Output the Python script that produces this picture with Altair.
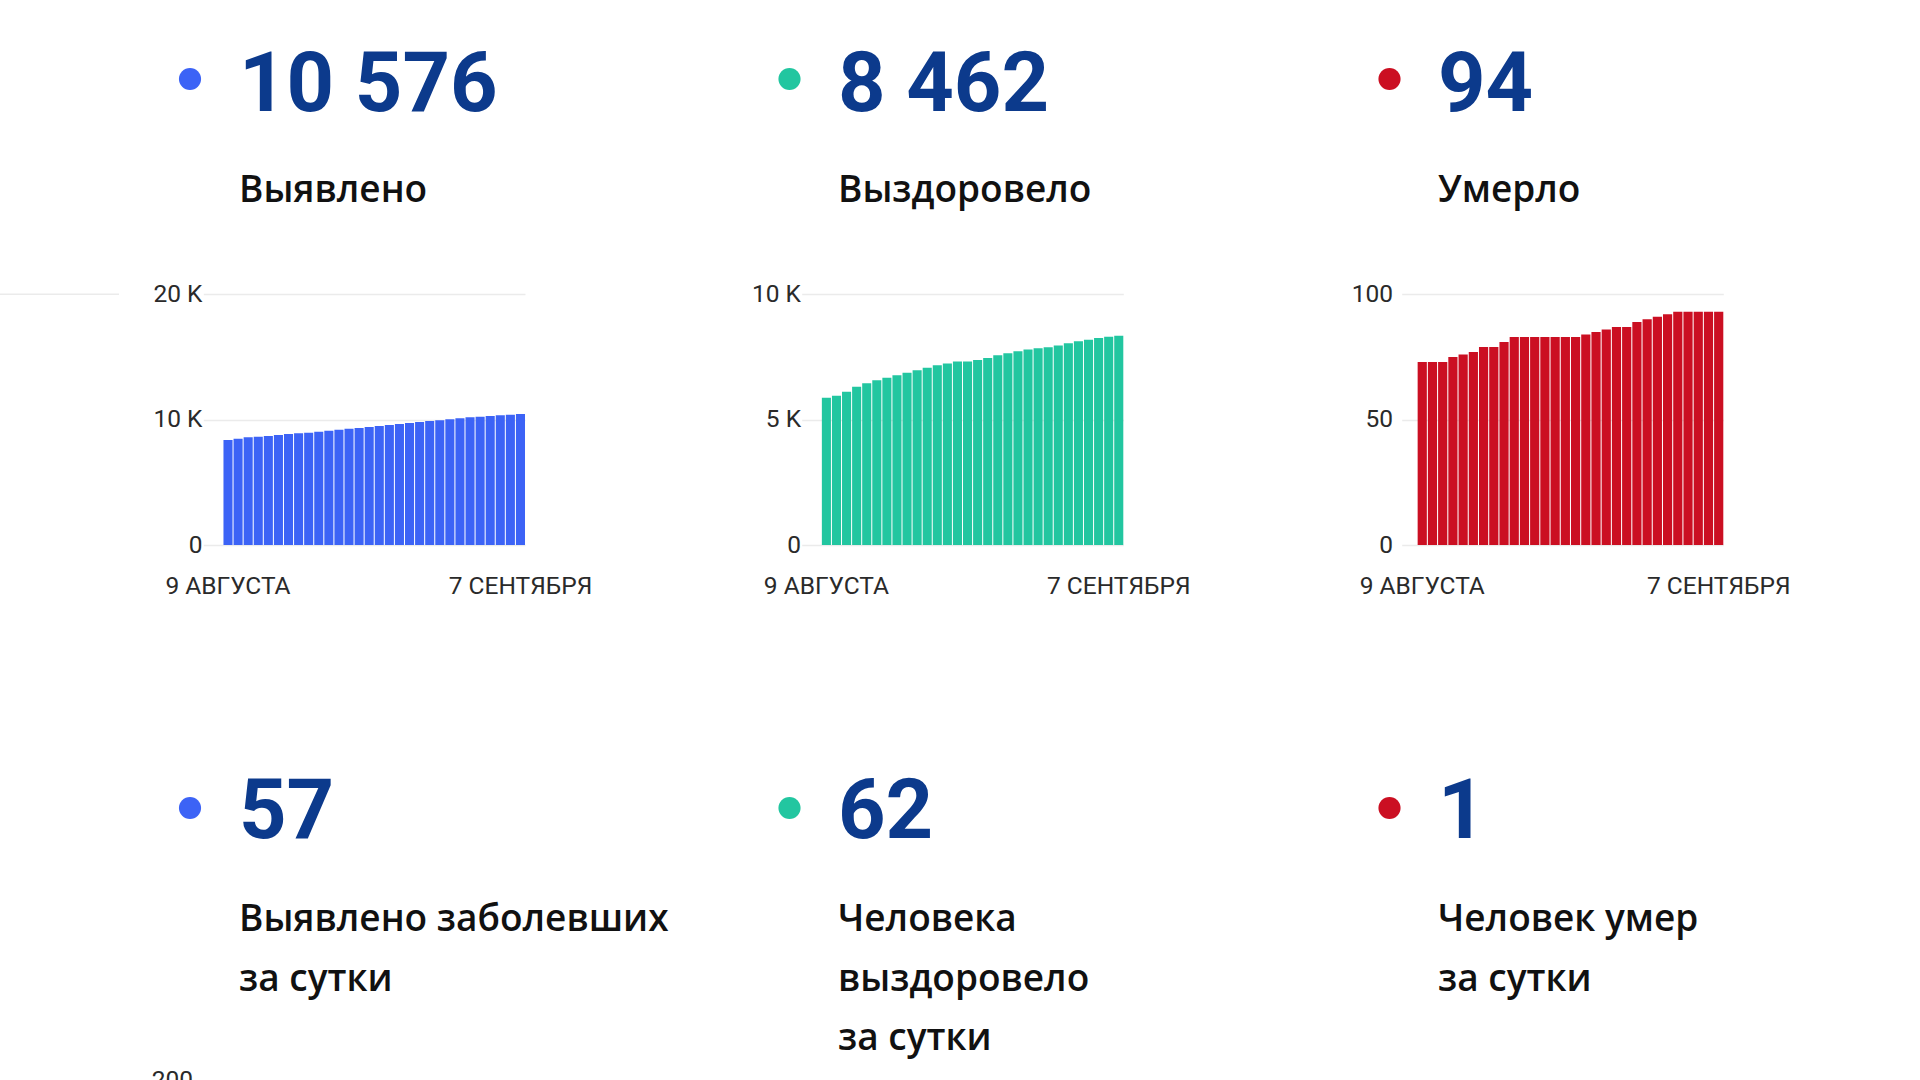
import altair as alt
import pandas as pd

# ---------------- data ----------------
dates = pd.date_range("2020-08-09", "2020-09-07").strftime("%Y-%m-%d").tolist()
x_tick_labels = ["9 АВГУСТА", "7 СЕНТЯБРЯ"]

confirmed_values = [8380, 8480, 8590, 8640, 8700, 8780, 8860, 8910, 8960, 9040,
                    9120, 9200, 9280, 9330, 9410, 9490, 9570, 9650, 9730, 9810,
                    9890, 9950, 10030, 10110, 10190, 10240, 10290, 10350, 10400, 10450]
recovered_values = [5870, 5950, 6110, 6310, 6450, 6570, 6670, 6770, 6870, 6970,
                    7070, 7170, 7240, 7320, 7320, 7380, 7460, 7570, 7650, 7730,
                    7800, 7850, 7890, 7960, 8050, 8130, 8190, 8260, 8310, 8350]
deaths_values = [73, 73, 73, 75, 76, 77, 79, 79, 81, 83,
                 83, 83, 83, 83, 83, 83, 84, 85, 86, 87,
                 87, 89, 90, 91, 92, 93, 93, 93, 93, 93]

confirmed_ticks = [0, 10000, 20000]
recovered_ticks = [0, 5000, 10000]
deaths_ticks = [0, 50, 100]

headline_numbers = ["10 576", "8 462", "94"]
headline_labels = ["Выявлено", "Выздоровело", "Умерло"]
daily_numbers = ["57", "62", "1"]
daily_labels = ["Выявлено заболевших\nза сутки",
                "Человека\nвыздоровело\nза сутки",
                "Человек умер\nза сутки"]
stray_label = ["200"]

# ---------------- style ----------------
FONT = "Roboto"
LABEL_FONT = "Open Sans"
NUM_COLOR = "#0c3a8c"
TEXT_COLOR = "#111111"
AXIS_COLOR = "#2a2a2a"
GRID_COLOR = "#ebebeb"
series_colors = ["#3c63f6", "#22c6a0", "#cb0f22"]
col_x = [239, 838, 1438]
dot_x = [190, 789.5, 1389.5]

PLOT_BOTTOM = 545
PLOT_TOP = 294.3
W, H = 1920, 1080

layers = []


def text_layer(txt, x, y, size, weight, color, font=FONT, align="left",
               line_height=None):
    kw = dict(align=align, baseline="alphabetic", font=font, fontSize=size,
              fontWeight=weight, color=color, lineBreak="\n")
    if line_height:
        kw["lineHeight"] = line_height
    return alt.Chart(pd.DataFrame({"t": [txt]})).mark_text(**kw).encode(
        x=alt.value(x), y=alt.value(y), text="t:N")


def dot_layer(x, y, color):
    return alt.Chart(pd.DataFrame({"t": [0]})).mark_circle(
        size=490, color=color, opacity=1).encode(x=alt.value(x), y=alt.value(y))


for i in range(3):
    layers.append(dot_layer(dot_x[i], 79, series_colors[i]))
    layers.append(text_layer(headline_numbers[i], col_x[i], 111, 83, 700, NUM_COLOR))
    layers.append(text_layer(headline_labels[i], col_x[i], 202, 37, 600, TEXT_COLOR,
                             font=LABEL_FONT))
    layers.append(dot_layer(dot_x[i], 808, series_colors[i]))
    layers.append(text_layer(daily_numbers[i], col_x[i], 838, 83, 700, NUM_COLOR))
    layers.append(text_layer(daily_labels[i], col_x[i], 931, 37, 600, TEXT_COLOR,
                             font=LABEL_FONT, line_height=59.5))


def bar_panel(values, color, x_range, p_outer, ticks, label_expr, y_axis_x):
    df = pd.DataFrame({"date": dates, "value": values})
    x_label_expr = ("datum.value == '%s' ? '%s' : '%s'"
                    % (dates[0], x_tick_labels[0], x_tick_labels[1]))
    return alt.Chart(df).mark_bar(color=color, opacity=1).encode(
        x=alt.X("date:O",
                scale=alt.Scale(range=x_range, paddingInner=0.1,
                                paddingOuter=p_outer, align=1),
                axis=alt.Axis(orient="bottom", offset=-(H - PLOT_BOTTOM),
                              values=[dates[0], dates[-1]], labelExpr=x_label_expr,
                              domain=False, ticks=False, tickSize=0, grid=False,
                              labelPadding=48, labelBaseline="alphabetic",
                              labelAngle=0, labelFont=FONT, labelFontSize=24.5,
                              labelColor=AXIS_COLOR, labelOverlap=False,
                              title=None)),
        y=alt.Y("value:Q",
                scale=alt.Scale(domain=[ticks[0], ticks[-1]],
                                range=[PLOT_BOTTOM, PLOT_TOP], nice=False),
                axis=alt.Axis(orient="left", offset=-y_axis_x, values=ticks,
                              labelExpr=label_expr, domain=False, ticks=False,
                              tickSize=0, labelPadding=0, grid=True,
                              gridColor=GRID_COLOR, gridWidth=1.5,
                              labelFont=FONT, labelFontSize=24.5,
                              labelColor=AXIS_COLOR, labelOverlap=False,
                              title=None)),
    )


k_expr = "datum.value == 0 ? '0' : (datum.value / 1000) + ' K'"
plain_expr = "'' + datum.value"

layers.append(bar_panel(confirmed_values, series_colors[0], [203.3, 525],
                        1.0, confirmed_ticks, k_expr, 202))
layers.append(bar_panel(recovered_values, series_colors[1], [801.7, 1123.3],
                        1.0, recovered_ticks, k_expr, 800.5))
layers.append(bar_panel(deaths_values, series_colors[2], [1401.7, 1723.3],
                        0.78, deaths_ticks, plain_expr, 1392.5))

# fragments of neighbouring widgets cut by the frame
layers.append(alt.Chart(pd.DataFrame({"t": [0]})).mark_rule(
    color=GRID_COLOR, strokeWidth=1.5).encode(
    x=alt.value(0), x2=alt.value(119), y=alt.value(294.3)))
layers.append(text_layer(stray_label[0], 193, 1088, 24.5, 400, AXIS_COLOR,
                         align="right"))

chart = alt.layer(*layers).resolve_scale(
    x="independent", y="independent"
).resolve_axis(
    x="independent", y="independent"
).properties(
    width=W, height=H,
    autosize=alt.AutoSizeParams(type="none"),
    padding=0,
    background="white",
).configure_view(stroke=None)

chart.save("out.html", embed_options={"renderer": "svg", "actions": False})
